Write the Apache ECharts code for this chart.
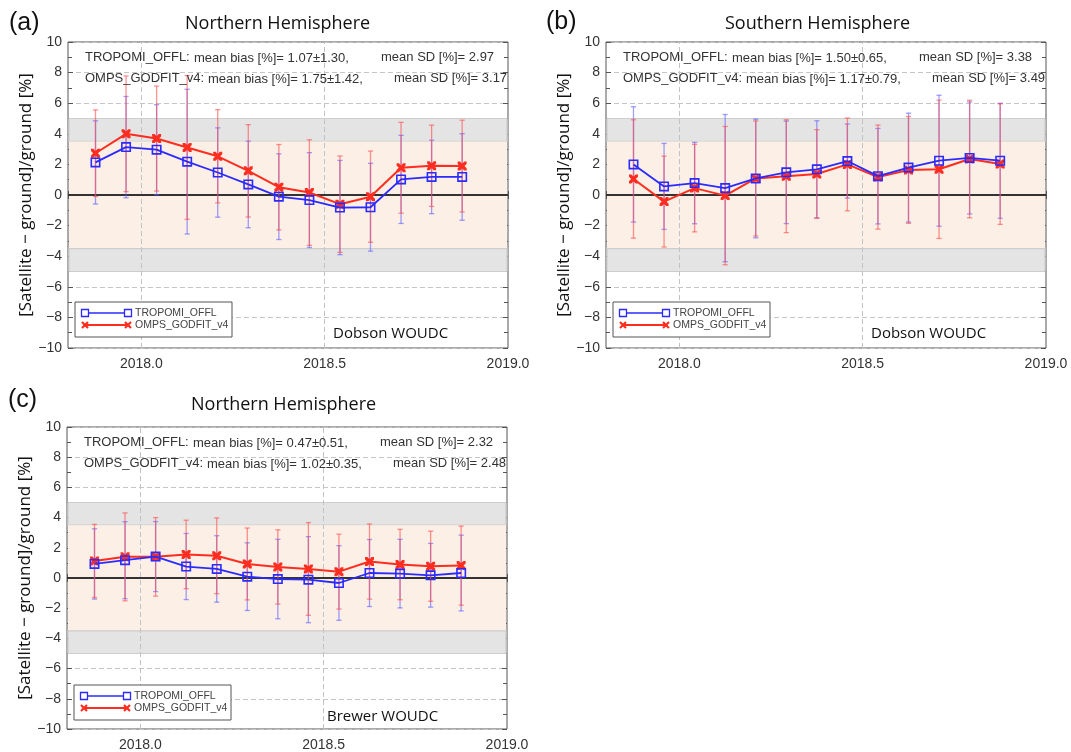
<!DOCTYPE html>
<html><head><meta charset="utf-8">
<script src="https://cdn.jsdelivr.net/npm/echarts@6/dist/echarts.min.js"></script>
<style>html,body{margin:0;padding:0;background:#fff}#c{width:1071px;height:752px}</style>
</head><body><div id="c"></div>
<script>
// ---- data ----
const months = ['2017-11','2017-12','2018-01','2018-02','2018-03','2018-04','2018-05','2018-06','2018-07','2018-08','2018-09','2018-10','2018-11'];
const seriesNames = ['TROPOMI_OFFL', 'OMPS_GODFIT_v4'];
const xTickLabels = ['2018.0', '2018.5', '2019.0'];
const yTickValues = [-10, -8, -6, -4, -2, 0, 2, 4, 6, 8, 10];
const bandEdges = [-5, -3.5, 3.5, 5];

// (a) Northern Hemisphere, Dobson WOUDC
const aTropomi   = [2.13, 3.13, 2.96, 2.18, 1.47, 0.69, -0.11, -0.33, -0.82, -0.80, 1.02, 1.18, 1.18];
const aTropomiSD = [2.72, 3.31, 2.94, 4.73, 2.92, 2.83, 2.80, 3.10, 3.08, 2.87, 2.88, 2.40, 2.83];
const aOmps      = [2.73, 4.00, 3.69, 3.11, 2.53, 1.58, 0.51, 0.16, -0.60, -0.11, 1.78, 1.91, 1.89];
const aOmpsSD    = [2.83, 3.78, 3.43, 4.70, 3.05, 3.02, 2.79, 3.45, 3.15, 2.98, 2.97, 2.66, 3.00];
const aStats = [['1.07±1.30', '2.97'], ['1.75±1.42', '3.17']];

// (b) Southern Hemisphere, Dobson WOUDC
const bTropomi   = [2.00, 0.56, 0.78, 0.45, 1.08, 1.48, 1.68, 2.22, 1.23, 1.79, 2.24, 2.42, 2.24];
const bTropomiSD = [3.77, 2.81, 2.66, 4.81, 3.88, 3.35, 3.17, 2.42, 3.12, 3.56, 4.28, 3.66, 3.76];
const bOmps      = [1.05, -0.43, 0.45, -0.04, 1.08, 1.23, 1.37, 2.00, 1.17, 1.64, 1.68, 2.35, 2.02];
const bOmpsSD    = [3.87, 2.97, 2.86, 4.52, 3.76, 3.69, 2.90, 3.03, 3.40, 3.49, 4.52, 3.84, 3.94];
const bStats = [['1.50±0.65', '3.38'], ['1.17±0.79', '3.49']];

// (c) Northern Hemisphere, Brewer WOUDC
const cTropomi   = [0.93, 1.18, 1.42, 0.76, 0.60, 0.09, -0.07, -0.11, -0.33, 0.33, 0.29, 0.18, 0.33];
const cTropomiSD = [2.33, 2.55, 2.32, 2.19, 2.20, 2.24, 2.63, 2.85, 2.47, 2.22, 2.27, 2.11, 2.51];
const cOmps      = [1.13, 1.40, 1.40, 1.56, 1.47, 0.93, 0.73, 0.60, 0.42, 1.09, 0.89, 0.78, 0.82];
const cOmpsSD    = [2.42, 2.91, 2.60, 2.27, 2.51, 2.38, 2.46, 3.07, 2.48, 2.49, 2.33, 2.32, 2.62];
const cStats = [['0.47±0.51', '2.32'], ['1.02±0.35', '2.48']];

// ---- helpers ----
const decYear = m => { const [y, mo] = m.split('-').map(Number); return y + (mo - 0.5) / 12; };
const xs = months.map(decYear);
const XMIN = 2017.8, XMAX = 2019.0;

const BLUE = '#2b2bff', RED = '#ff2d1f';
const BLUE_ERR = 'rgba(95,95,255,0.6)', RED_ERR = 'rgba(255,75,75,0.6)';
const SQ = 'path://M0,0L10,0L10,10L0,10Z M1.6,1.6L1.6,8.4L8.4,8.4L8.4,1.6Z';
const XMARK = 'path://M0,0L2.6,0L5,2.4L7.4,0L10,0L10,2.6L7.6,5L10,7.4L10,10L7.4,10L5,7.6L2.6,10L0,10L0,7.4L2.4,5L0,2.6Z';

const panels = [
  { tag: '(a)', title: 'Northern Hemisphere', station: 'Dobson WOUDC', trop: aTropomi, tropSD: aTropomiSD, omps: aOmps, ompsSD: aOmpsSD, stats: aStats,
    grid: { left: 68, top: 42, width: 440, height: 306 }, tagXY: [9, 23], titleXY: [185, 24], stationDX: 265 },
  { tag: '(b)', title: 'Southern Hemisphere', station: 'Dobson WOUDC', trop: bTropomi, tropSD: bTropomiSD, omps: bOmps, ompsSD: bOmpsSD, stats: bStats,
    grid: { left: 606, top: 42, width: 440, height: 306 }, tagXY: [546, 22], titleXY: [725, 24], stationDX: 265 },
  { tag: '(c)', title: 'Northern Hemisphere', station: 'Brewer WOUDC', trop: cTropomi, tropSD: cTropomiSD, omps: cOmps, ompsSD: cOmpsSD, stats: cStats,
    grid: { left: 67, top: 427, width: 440, height: 304 }, tagXY: [8, 400], titleXY: [191, 405], stationDX: 260 }
];

const labelFont = 'Liberation Sans';
const grids = [], xAxes = [], yAxes = [], series = [], graphics = [];

function errRender(color) {
  return function (params, api) {
    const x = api.value(0);
    const p1 = api.coord([x, api.value(1)]);
    const p2 = api.coord([x, api.value(2)]);
    const w = 2.6;
    const st = { stroke: color, lineWidth: 1.3 };
    return { type: 'group', children: [
      { type: 'line', shape: { x1: p1[0], y1: p1[1], x2: p2[0], y2: p2[1] }, style: st },
      { type: 'line', shape: { x1: p1[0] - w, y1: p1[1], x2: p1[0] + w, y2: p1[1] }, style: st },
      { type: 'line', shape: { x1: p2[0] - w, y1: p2[1], x2: p2[0] + w, y2: p2[1] }, style: st }
    ]};
  };
}

panels.forEach((p, i) => {
  const g = p.grid;
  grids.push({ left: g.left, top: g.top, width: g.width, height: g.height, show: true, borderColor: '#555', borderWidth: 1, backgroundColor: '#fff', containLabel: false });

  const xBase = { gridIndex: i, type: 'value', min: XMIN, max: XMAX, interval: 0.1,
    axisLine: { show: false }, splitLine: { show: false },
    axisTick: { show: true, inside: true, length: 4, lineStyle: { color: '#555' } } };
  xAxes.push(Object.assign({}, xBase, { position: 'bottom',
    axisLabel: { show: true, showMinLabel: true, showMaxLabel: true, hideOverlap: false, color: '#333', fontFamily: labelFont, fontSize: 14, margin: 9,
      formatter: v => { const s = v.toFixed(1); return xTickLabels.indexOf(s) >= 0 ? s : ''; } } }));
  xAxes.push(Object.assign({}, xBase, { position: 'top', axisLabel: { show: false } }));

  const yBase = { gridIndex: i, type: 'value', min: -10, max: 10, interval: 2,
    axisLine: { show: false },
    axisTick: { show: true, inside: true, length: 5, lineStyle: { color: '#555' } },
    minorTick: { show: true, splitNumber: 2, length: 4, lineStyle: { color: '#555' } } };
  yAxes.push(Object.assign({}, yBase, { position: 'left',
    splitLine: { show: true, lineStyle: { color: '#c6c6c6', type: [5, 3], width: 1 } },
    axisLabel: { color: '#333', fontFamily: labelFont, fontSize: 14, margin: 6,
      formatter: v => yTickValues.indexOf(v) >= 0 ? String(v).replace('-', '\u2212') : '' },
    name: '[Satellite \u2212 ground]/ground [%]', nameLocation: 'middle', nameGap: 33, nameRotate: 90,
    nameTextStyle: { fontFamily: 'Open Sans', fontSize: 17, color: '#111' } }));
  yAxes.push(Object.assign({}, yBase, { position: 'right', splitLine: { show: false }, axisLabel: { show: false } }));

  const xi = 2 * i, yi = 2 * i;
  // bands
  const bandData = [[XMIN, bandEdges[2], bandEdges[3], 0], [XMIN, bandEdges[1], bandEdges[2], 1], [XMIN, bandEdges[0], bandEdges[1], 0]];
  series.push({ type: 'custom', xAxisIndex: xi, yAxisIndex: yi, z: 1, silent: true, encode: { x: 0, y: [1, 2] },
    data: bandData,
    renderItem: (params, api) => {
      const cs = params.coordSys;
      const yTop = api.coord([api.value(0), api.value(2)])[1];
      const yBot = api.coord([api.value(0), api.value(1)])[1];
      const grey = api.value(3) === 0;
      return { type: 'rect', shape: { x: cs.x + 1, y: yTop, width: cs.width - 2, height: yBot - yTop },
        style: { fill: grey ? '#e4e4e4' : '#fbefe6', stroke: grey ? '#cdcdcd' : null, lineWidth: 1.2 } };
    },
    markLine: { silent: true, symbol: 'none', z: 2, label: { show: false },
      data: [
        { xAxis: 2018.0, lineStyle: { color: '#c2c2c2', type: [5, 3], width: 1 } },
        { xAxis: 2018.5, lineStyle: { color: '#c2c2c2', type: [5, 3], width: 1 } },
        { yAxis: 0, lineStyle: { color: '#333', type: 'solid', width: 2 } }
      ] }
  });
  // error bars
  series.push({ type: 'custom', name: seriesNames[0] + ' SD', xAxisIndex: xi, yAxisIndex: yi, z: 3, silent: true,
    encode: { x: 0, y: [1, 2] }, renderItem: errRender(BLUE_ERR),
    data: xs.map((x, k) => [x, p.trop[k] - p.tropSD[k], p.trop[k] + p.tropSD[k]]) });
  series.push({ type: 'custom', name: seriesNames[1] + ' SD', xAxisIndex: xi, yAxisIndex: yi, z: 3, silent: true,
    encode: { x: 0, y: [1, 2] }, renderItem: errRender(RED_ERR),
    data: xs.map((x, k) => [x, p.omps[k] - p.ompsSD[k], p.omps[k] + p.ompsSD[k]]) });
  // lines
  series.push({ type: 'line', name: seriesNames[1], xAxisIndex: xi, yAxisIndex: yi, z: 4,
    data: xs.map((x, k) => [x, p.omps[k]]), symbol: XMARK, symbolSize: 9, showAllSymbol: true,
    lineStyle: { color: RED, width: 2 }, itemStyle: { color: RED }, animation: false });
  series.push({ type: 'line', name: seriesNames[0], xAxisIndex: xi, yAxisIndex: yi, z: 5,
    data: xs.map((x, k) => [x, p.trop[k]]), symbol: SQ, symbolSize: 10, showAllSymbol: true,
    lineStyle: { color: BLUE, width: 1.8 }, itemStyle: { color: BLUE }, animation: false });

  // texts
  graphics.push({ type: 'text', x: p.tagXY[0], y: p.tagXY[1], z: 10, style: { text: p.tag, font: '25px Liberation Sans', fill: '#111', verticalAlign: 'middle' } });
  graphics.push({ type: 'text', x: p.titleXY[0], y: p.titleXY[1], z: 10, style: { text: p.title, font: '18px Open Sans', fill: '#111', verticalAlign: 'middle' } });
  const sFont = '13px Liberation Sans', sCol = '#333';
  const rows = [
    { name: seriesNames[0] + ':', dxBias: 126, dxSD: 313, dy: 15 },
    { name: seriesNames[1] + ':', dxBias: 140, dxSD: 326, dy: 36 }
  ];
  rows.forEach((r, k) => {
    graphics.push({ type: 'text', x: g.left + 17, y: g.top + r.dy, z: 10, style: { text: r.name, font: sFont, fill: sCol, verticalAlign: 'middle' } });
    graphics.push({ type: 'text', x: g.left + r.dxBias, y: g.top + r.dy + 1, z: 10, style: { text: 'mean bias [%]= ' + p.stats[k][0] + ',', font: sFont, fill: sCol, verticalAlign: 'middle' } });
    graphics.push({ type: 'text', x: g.left + r.dxSD, y: g.top + r.dy, z: 10, style: { text: 'mean SD [%]= ' + p.stats[k][1], font: sFont, fill: sCol, verticalAlign: 'middle' } });
  });
  const bottom = g.top + g.height;
  graphics.push({ type: 'text', x: g.left + p.stationDX, y: bottom - 14, z: 10, style: { text: p.station, font: '15px Open Sans', fill: '#111', verticalAlign: 'middle' } });

  // legend box
  const lx = g.left + 7, ly = bottom - 46;
  graphics.push({ type: 'rect', z: 10, shape: { x: lx, y: ly, width: 157, height: 35 }, style: { fill: '#fff', stroke: '#555', lineWidth: 1 } });
  const l1 = ly + 11, l2 = ly + 23, x1 = lx + 10, x2 = lx + 53;
  graphics.push({ type: 'line', z: 11, shape: { x1: x1, y1: l1, x2: x2, y2: l1 }, style: { stroke: BLUE, lineWidth: 1.5 } });
  [x1, x2].forEach(xx => graphics.push({ type: 'rect', z: 12, shape: { x: xx - 3.5, y: l1 - 3.5, width: 7, height: 7 }, style: { fill: '#fff', stroke: BLUE, lineWidth: 1.3 } }));
  graphics.push({ type: 'line', z: 11, shape: { x1: x1, y1: l2, x2: x2, y2: l2 }, style: { stroke: RED, lineWidth: 1.8 } });
  [x1, x2].forEach(xx => {
    graphics.push({ type: 'line', z: 12, shape: { x1: xx - 3, y1: l2 - 3, x2: xx + 3, y2: l2 + 3 }, style: { stroke: RED, lineWidth: 2.2 } });
    graphics.push({ type: 'line', z: 12, shape: { x1: xx - 3, y1: l2 + 3, x2: xx + 3, y2: l2 - 3 }, style: { stroke: RED, lineWidth: 2.2 } });
  });
  graphics.push({ type: 'text', z: 12, x: lx + 60, y: l1, style: { text: seriesNames[0], font: '10.5px Liberation Sans', fill: '#444', verticalAlign: 'middle' } });
  graphics.push({ type: 'text', z: 12, x: lx + 60, y: l2, style: { text: seriesNames[1], font: '10.5px Liberation Sans', fill: '#444', verticalAlign: 'middle' } });
});

const chart = echarts.init(document.getElementById('c'), null, { renderer: 'canvas' });
chart.setOption({
  backgroundColor: '#fff',
  animation: false,
  grid: grids,
  xAxis: xAxes,
  yAxis: yAxes,
  series: series,
  graphic: graphics
});
</script>
</body></html>
